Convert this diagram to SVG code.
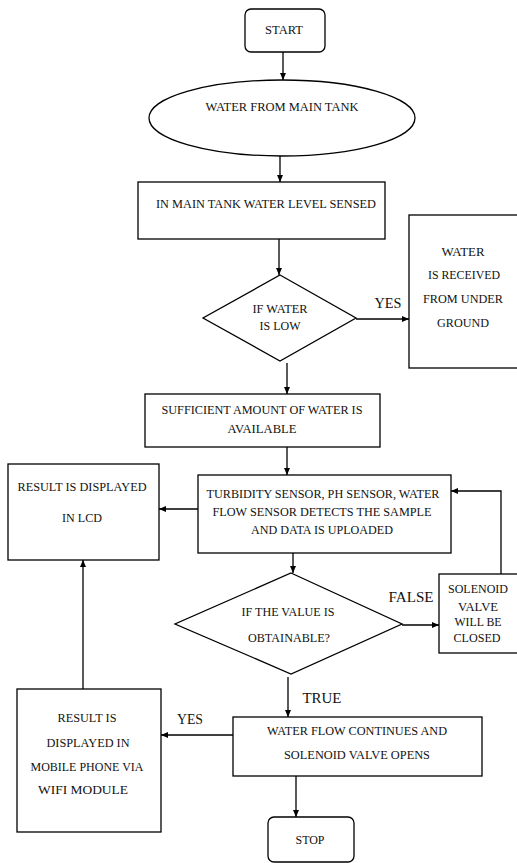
<svg xmlns="http://www.w3.org/2000/svg" width="517" height="863" viewBox="0 0 517 863">
<style>
.s{fill:#fff;stroke:#000;stroke-width:1.3}
.t{font-family:'Liberation Serif','DejaVu Serif','Times New Roman',serif;font-size:13px;fill:#111;text-anchor:middle}
.l{font-family:'Liberation Serif','DejaVu Serif','Times New Roman',serif;font-size:14px;fill:#111;text-anchor:middle}
.c{fill:none;stroke:#000;stroke-width:1.3}
</style>
<defs>
<marker id="a" markerUnits="userSpaceOnUse" markerWidth="8" markerHeight="7" refX="7" refY="3" orient="auto">
<path d="M0,0 L7,3 L0,6 z" fill="#000"/>
</marker>
</defs>
<rect width="517" height="863" fill="#fff"/>
<g id="connectors">
<path class="c" d="M283,52 V80" marker-end="url(#a)"/>
<path class="c" d="M280,150 V182" marker-end="url(#a)"/>
<path class="c" d="M279,239 V275" marker-end="url(#a)"/>
<path class="c" d="M356,319 H409" marker-end="url(#a)"/>
<path class="c" d="M287,363 V394" marker-end="url(#a)"/>
<path class="c" d="M287,447 V475" marker-end="url(#a)"/>
<path class="c" d="M198,509 H159" marker-end="url(#a)"/>
<path class="c" d="M293,553 V573" marker-end="url(#a)"/>
<path class="c" d="M402,625 H439" marker-end="url(#a)"/>
<path class="c" d="M501,574 V491 H451" marker-end="url(#a)"/>
<path class="c" d="M288,677 V717" marker-end="url(#a)"/>
<path class="c" d="M233,735 H161" marker-end="url(#a)"/>
<path class="c" d="M83,689 V560" marker-end="url(#a)"/>
<path class="c" d="M296,776 V817" marker-end="url(#a)"/>
<text class="l" x="388" y="308" textLength="27" lengthAdjust="spacingAndGlyphs">YES</text>
<text class="l" x="411" y="602" textLength="45" lengthAdjust="spacingAndGlyphs">FALSE</text>
<text class="l" x="322" y="703" textLength="39" lengthAdjust="spacingAndGlyphs">TRUE</text>
<text class="l" x="190" y="724" textLength="26" lengthAdjust="spacingAndGlyphs">YES</text>
</g>
<g id="start">
<rect class="s" x="245" y="9" width="80" height="43" rx="6"/>
<text class="t" x="284" y="34" textLength="38" lengthAdjust="spacingAndGlyphs">START</text>
</g>
<g id="main-tank">
<ellipse class="s" cx="282" cy="118" rx="133" ry="38"/>
<text class="t" x="282" y="111" textLength="153" lengthAdjust="spacingAndGlyphs">WATER FROM MAIN TANK</text>
</g>
<g id="level-sensed">
<rect class="s" x="138" y="182" width="247" height="57"/>
<text class="t" x="266" y="208" textLength="220" lengthAdjust="spacingAndGlyphs">IN MAIN TANK WATER LEVEL SENSED</text>
</g>
<g id="if-low">
<polygon class="s" points="280,275 356,318 280,361 203,318"/>
<text class="t" x="280" y="313" textLength="55" lengthAdjust="spacingAndGlyphs">IF WATER</text>
<text class="t" x="280" y="330" textLength="41" lengthAdjust="spacingAndGlyphs">IS LOW</text>
</g>
<g id="underground">
<rect class="s" x="409" y="215" width="115" height="153"/>
<text class="t" x="463" y="256" textLength="43" lengthAdjust="spacingAndGlyphs">WATER</text>
<text class="t" x="464" y="279" textLength="72" lengthAdjust="spacingAndGlyphs">IS RECEIVED</text>
<text class="t" x="463" y="303" textLength="80" lengthAdjust="spacingAndGlyphs">FROM UNDER</text>
<text class="t" x="463" y="327" textLength="52" lengthAdjust="spacingAndGlyphs">GROUND</text>
</g>
<g id="sufficient">
<rect class="s" x="145" y="394" width="235" height="53"/>
<text class="t" x="262" y="414" textLength="201" lengthAdjust="spacingAndGlyphs">SUFFICIENT AMOUNT OF WATER IS</text>
<text class="t" x="262" y="433" textLength="69" lengthAdjust="spacingAndGlyphs">AVAILABLE</text>
</g>
<g id="lcd">
<rect class="s" x="8" y="464" width="151" height="96"/>
<text class="t" x="82" y="491" textLength="129" lengthAdjust="spacingAndGlyphs">RESULT IS DISPLAYED</text>
<text class="t" x="82" y="522" textLength="40" lengthAdjust="spacingAndGlyphs">IN LCD</text>
</g>
<g id="sensors">
<rect class="s" x="198" y="475" width="253" height="78"/>
<text class="t" x="323" y="498" textLength="233" lengthAdjust="spacingAndGlyphs">TURBIDITY SENSOR, PH SENSOR, WATER</text>
<text class="t" x="322" y="516" textLength="219" lengthAdjust="spacingAndGlyphs">FLOW SENSOR DETECTS THE SAMPLE</text>
<text class="t" x="322" y="534" textLength="142" lengthAdjust="spacingAndGlyphs">AND DATA IS UPLOADED</text>
</g>
<g id="if-obtainable">
<polygon class="s" points="291,573 402,624 291,674 175,624"/>
<text class="t" x="288" y="616" textLength="93" lengthAdjust="spacingAndGlyphs">IF THE VALUE IS</text>
<text class="t" x="289" y="642" textLength="82" lengthAdjust="spacingAndGlyphs">OBTAINABLE?</text>
</g>
<g id="solenoid-closed">
<rect class="s" x="439" y="574" width="85" height="79"/>
<text class="t" x="478" y="593" textLength="60" lengthAdjust="spacingAndGlyphs">SOLENOID</text>
<text class="t" x="478" y="611" textLength="40" lengthAdjust="spacingAndGlyphs">VALVE</text>
<text class="t" x="478" y="626" textLength="47" lengthAdjust="spacingAndGlyphs">WILL BE</text>
<text class="t" x="477" y="642" textLength="47" lengthAdjust="spacingAndGlyphs">CLOSED</text>
</g>
<g id="flow-continues">
<rect class="s" x="233" y="717" width="249" height="59"/>
<text class="t" x="357" y="735" textLength="180" lengthAdjust="spacingAndGlyphs">WATER FLOW CONTINUES AND</text>
<text class="t" x="357" y="759" textLength="146" lengthAdjust="spacingAndGlyphs">SOLENOID VALVE OPENS</text>
</g>
<g id="mobile">
<rect class="s" x="17" y="689" width="144" height="143"/>
<text class="t" x="87" y="722" textLength="59" lengthAdjust="spacingAndGlyphs">RESULT IS</text>
<text class="t" x="88" y="747" textLength="83" lengthAdjust="spacingAndGlyphs">DISPLAYED IN</text>
<text class="t" x="87" y="771" textLength="113" lengthAdjust="spacingAndGlyphs">MOBILE PHONE VIA</text>
<text class="t" x="83" y="794" textLength="90" lengthAdjust="spacingAndGlyphs">WIFI MODULE</text>
</g>
<g id="stop">
<rect class="s" x="268" y="817" width="86" height="45" rx="6"/>
<text class="t" x="310" y="844" textLength="29" lengthAdjust="spacingAndGlyphs">STOP</text>
</g>
</svg>
